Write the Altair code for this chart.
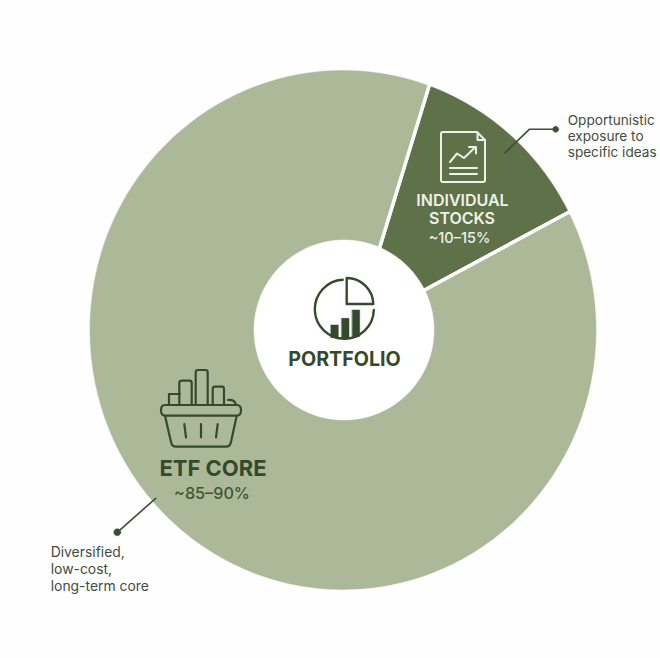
import math
import altair as alt
import pandas as pd

# Portfolio allocation shares
segments = ["Individual stocks", "ETF core"]
shares = [12.4, 87.6]
segment_order = [0, 1]
segment_colors = ["#5e7149", "#acb999"]

START_DEG = 17.0
APEX_X, APEX_Y = 355.2, 327.5
INK = "#354a2d"
SOFT_INK = "#3f5535"
BODY = "#434c40"
FONT = "Inter"
PAPER = "#fefefe"

donut_data = pd.DataFrame({"segment": segments, "share": shares, "rank": segment_order})
start = math.radians(START_DEG)

# Oversized wedges; the ring shape comes from the two trims drawn over them
wedges = alt.Chart(donut_data).mark_arc(
    innerRadius=0, outerRadius=290, stroke=PAPER, strokeWidth=3.5
).encode(
    theta=alt.Theta("share:Q", stack=True, scale=alt.Scale(range=[start, start + 2 * math.pi])),
    color=alt.Color("segment:N", scale=alt.Scale(domain=segments, range=segment_colors), legend=None),
    order=alt.Order("rank:Q"),
    x=alt.value(APEX_X),
    y=alt.value(APEX_Y),
)

blank = pd.DataFrame({"k": [0]})


def glyph(path, color, width=2.2, filled=False):
    """Draws an SVG path whose coordinates are chart pixels (size 4 gives unit scale)."""
    kw = dict(fill=color, stroke=color, strokeWidth=0.5) if filled else dict(
        fill="transparent", stroke=color, strokeWidth=width
    )
    return alt.Chart(blank).mark_point(
        shape=path, size=4, opacity=1, filled=filled, strokeCap="round", strokeJoin="round", **kw
    ).encode(x=alt.value(0), y=alt.value(0))


def label(text, x, y, size, color, weight=500, align="center"):
    return alt.Chart(blank).mark_text(
        text=text, font=FONT, fontSize=size, fontWeight=weight, color=color, align=align,
        baseline="alphabetic",
    ).encode(x=alt.value(x), y=alt.value(y))


# Page-coloured surround with an elliptical window, and the central hole
surround = (
    "M-5 -5 H665 V663 H-5 Z "
    "M89.5 330 A253.5 260 0 1 0 596.5 330 A253.5 260 0 1 0 89.5 330 Z"
)
hole = "M254 330 A90 90 0 1 0 434 330 A90 90 0 1 0 254 330 Z"

# Document icon on the stocks slice
doc_icon = (
    "M443 132 H477 L485 140 V180 Q485 182 483 182 H443 Q441 182 441 180 V134 Q441 132 443 132 Z "
    "M477.5 133 V140 H484.5 "
    "M450 162 L457 153.5 L464 158 L475 147.5 M469 147 H476 V153.5 "
    "M450 168 H477 M450 174 H477"
)

# Pie-and-bars icon in the centre
hub_ring = "M342.7 279.8 A29.5 29.5 0 1 0 373.8 310"
hub_wedge = "M346.7 278 V304 H373.3 A26.6 26.6 0 0 0 346.7 278 Z"
hub_bars = (
    "M331 325 H338.3 V337.7 H331 Z "
    "M341.7 318.3 H349 V338 H341.7 Z "
    "M352.3 310 H359.7 V336.5 L352.3 338 Z"
)

# Basket icon on the ETF slice
basket = (
    "M165 405 H237 Q241 405 241 410.3 Q241 415.7 237 415.7 H165 Q161 415.7 161 410.3 Q161 405 165 405 Z "
    "M165 415.7 L171 442 Q172 446.7 176 446.7 H226 Q230 446.7 231 442 L236.7 415.7 "
    "M184.3 424 L186 437.3 M201 424 V437.3 M217.7 424 L216 437.3 "
    "M169 405 V394 H180 M179.3 405 V383 Q179.3 380.7 182 380.7 H189.5 Q191.7 380.7 191.7 383 V405 "
    "M195.7 405 V372 Q195.7 370 198 370 H205.5 Q207.7 370 207.7 372 V405 "
    "M212.7 405 V389 Q212.7 386.7 215 386.7 H222 Q224 386.7 224 389 V405 "
    "M228 400 Q235 399.5 236 405"
)

# Callout leaders with their end dots
leader_right = "M505 152.7 L529.3 129.3 H553"
leader_left = "M155.7 498.3 L117.3 532.3"
dot_right = "M558.7 129.3 A3 3 0 1 0 552.7 129.3 A3 3 0 1 0 558.7 129.3 Z"
dot_left = "M120.8 532.3 A3.5 3.5 0 1 0 113.8 532.3 A3.5 3.5 0 1 0 120.8 532.3 Z"

layers = [
    wedges,
    glyph(surround, PAPER, filled=True),
    glyph(hole, "#ffffff", filled=True),
    glyph(doc_icon, "#eef1e8", 2.0),
    glyph(hub_ring, INK, 2.4),
    glyph(hub_wedge, INK, 2.4),
    glyph(hub_bars, INK, filled=True),
    glyph(basket, INK, 2.2),
    glyph(leader_right, "#3b4f32", 1.6),
    glyph(leader_left, "#3b4f32", 1.6),
    glyph(dot_right, "#3b4f32", filled=True),
    glyph(dot_left, "#3b4f32", filled=True),
    label("INDIVIDUAL", 462.5, 205.7, 16, "#eef1e8", 600),
    label("STOCKS", 462, 224, 16, "#eef1e8", 600),
    label("~10–15%", 459.5, 243, 14.5, "#eef1e8", 500),
    label("PORTFOLIO", 344.5, 365.7, 19.7, INK, 700),
    label("ETF CORE", 213, 476, 22, INK, 700),
    label("~85–90%", 212, 498.7, 16.2, SOFT_INK, 500),
    label("Opportunistic", 567.7, 125, 13.6, BODY, 400, "left"),
    label("exposure to", 567.7, 141, 13.6, BODY, 400, "left"),
    label("specific ideas", 567.7, 157, 13.6, BODY, 400, "left"),
    label("Diversified,", 50.7, 556.7, 13.9, BODY, 400, "left"),
    label("low-cost,", 50.7, 573.5, 13.9, BODY, 400, "left"),
    label("long-term core", 50.7, 591, 13.9, BODY, 400, "left"),
]

chart = alt.layer(*layers).properties(
    width=660,
    height=658,
    padding=0,
    background=PAPER,
    autosize=alt.AutoSizeParams(type="none"),
).configure_view(stroke=None)

chart.save("out.html", embed_options={"renderer": "svg", "actions": False})
